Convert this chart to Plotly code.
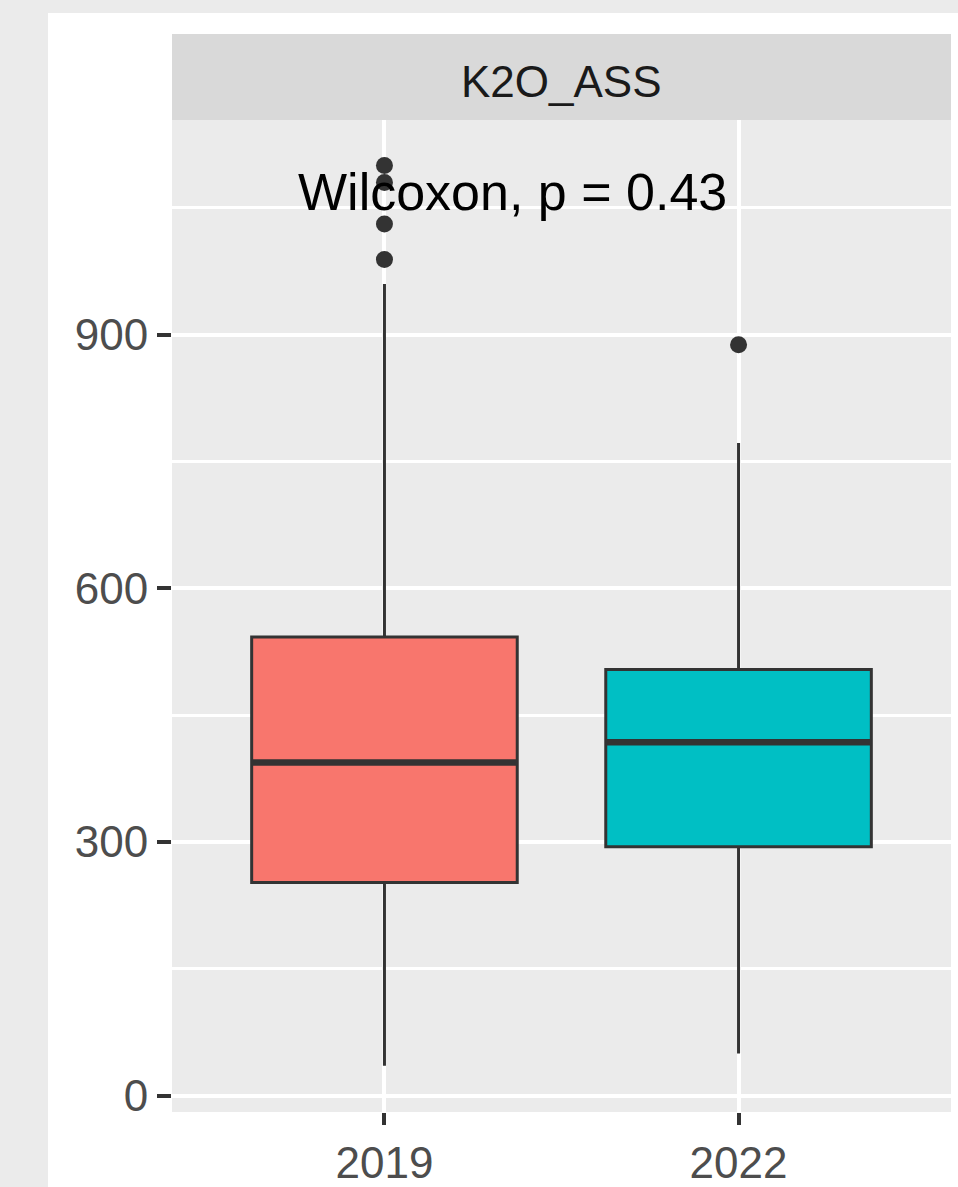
import plotly.graph_objects as go

# ---- data ----
years = ["2019", "2022"]
q1 = [252, 294.5]
medians = [394, 418]
q3 = [542.5, 504]
lower_whisker = [35.5, 50]
upper_whisker = [960, 772]
outliers = {"2019": [1100, 1080, 1031, 989], "2022": [888]}
fill_colors = ["#F8766D", "#00BFC4"]
y_ticks = [0, 300, 600, 900]
y_minor = [150, 450, 750, 1050]
facet_label = "K2O_ASS"
test_label = "Wilcoxon, p = 0.43"

BOX_W = 0.75
LINE = "#333333"
FONT = "Liberation Sans, Arial, sans-serif"

fig = go.Figure()

for i, yr in enumerate(years):
    fig.add_trace(go.Box(
        x=[yr], q1=[q1[i]], median=[medians[i]], q3=[q3[i]],
        lowerfence=[lower_whisker[i]], upperfence=[upper_whisker[i]],
        fillcolor=fill_colors[i], line=dict(color=LINE, width=3),
        whiskerwidth=0, width=BOX_W, boxpoints=False, showlegend=False,
        hoverinfo="skip",
    ))

for yr in years:
    pts = outliers[yr]
    fig.add_trace(go.Scatter(
        x=[yr] * len(pts), y=pts, mode="markers",
        marker=dict(color=LINE, size=17, line=dict(width=0)),
        showlegend=False, hoverinfo="skip",
    ))

shapes = []
# thick median lines (ggplot fatten)
for i, yr in enumerate(years):
    shapes.append(dict(type="line", xref="x", yref="y",
                       x0=i - BOX_W / 2, x1=i + BOX_W / 2,
                       y0=medians[i], y1=medians[i],
                       line=dict(color=LINE, width=6.5), layer="above"))

# outer gray border of the image (left and top)
shapes.append(dict(type="rect", xref="paper", yref="paper",
                   x0=-0.3, x1=(48 - 172) / 779, y0=-0.2, y1=1.3,
                   fillcolor="#EBEBEB", line=dict(width=0), layer="below"))
shapes.append(dict(type="rect", xref="paper", yref="paper",
                   x0=-0.3, x1=1.2, y0=(1112 - 13) / 992, y1=1.3,
                   fillcolor="#EBEBEB", line=dict(width=0), layer="below"))
# facet strip
shapes.append(dict(type="rect", xref="paper", yref="paper",
                   x0=0, x1=1, y0=1, y1=(1112 - 34) / 992,
                   fillcolor="#D9D9D9", line=dict(width=0), layer="below"))

fig.update_layout(
    width=958, height=1187,
    margin=dict(l=172, r=7, t=120, b=75, autoexpand=False),
    paper_bgcolor="white", plot_bgcolor="#EBEBEB",
    boxmode="overlay",
    shapes=shapes,
    font=dict(family=FONT, color="#4D4D4D"),
    annotations=[
        dict(text=facet_label, xref="paper", yref="paper",
             x=0.5, y=(1112 - 82) / 992, xanchor="center", yanchor="middle",
             showarrow=False, font=dict(size=44, color="#1A1A1A", family=FONT)),
        dict(text=test_label, xref="paper", yref="paper",
             x=(512 - 172) / 779, y=(1112 - 192) / 992,
             xanchor="center", yanchor="middle",
             showarrow=False, font=dict(size=52, color="black", family=FONT)),
    ],
)

fig.update_xaxes(
    type="category", categoryorder="array", categoryarray=years,
    range=[-0.6, 1.6], showgrid=True, gridcolor="white", gridwidth=3.5,
    zeroline=False, showline=False, automargin=False,
    ticks="outside", ticklen=12, tickwidth=4, tickcolor=LINE,
    tickfont=dict(size=44, color="#4D4D4D", family=FONT),
)
fig.update_yaxes(
    range=[-19.3, 1153.9], tickvals=y_ticks, ticktext=[str(v) for v in y_ticks],
    showgrid=True, gridcolor="white", gridwidth=4,
    zeroline=False, showline=False, automargin=False,
    ticks="outside", ticklen=14, tickwidth=4, tickcolor=LINE,
    tickfont=dict(size=44, color="#4D4D4D", family=FONT),
    minor=dict(tickvals=y_minor, showgrid=True, gridcolor="white",
               gridwidth=2.5, ticks=""),
)

fig.write_html("out.html")
